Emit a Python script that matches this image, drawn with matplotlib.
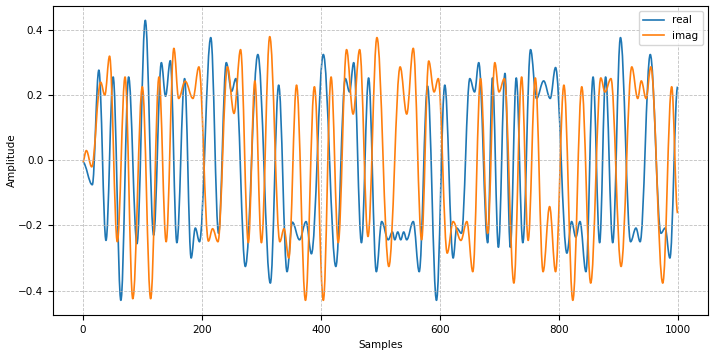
import matplotlib
matplotlib.use("Agg")
import matplotlib.pyplot as plt
from matplotlib.path import Path
from matplotlib.patches import PathPatch
from matplotlib.lines import Line2D

# Sample positions and values (turning points of each swing)
real_idx = [0, 16, 27, 39, 51, 64, 77, 91, 105, 119, 132, 139, 147, 158, 171, 182, 189, 196,
            215, 228, 241, 250, 257, 273, 294, 315, 329, 343, 352, 364, 375, 384, 404, 425,
            441, 448, 455, 468, 480, 493, 502, 513, 520, 524, 529, 534, 539, 544, 555, 565,
            579, 594, 608, 622, 628, 636, 650, 658, 665, 680, 688, 698, 709, 718, 728, 739,
            752, 762, 774, 785, 794, 813, 821, 828, 835, 845, 857, 868, 878, 890, 903, 920,
            929, 936, 953, 971, 978, 986, 999]
real_val = [-0.005, -0.075, 0.277, -0.246, 0.256, -0.43, 0.256, -0.256, 0.43, -0.23, 0.30, 0.197,
            0.306, -0.253, 0.251, -0.30, -0.208, -0.25, 0.377, -0.224, 0.30, 0.212, 0.251, -0.326,
            0.325, -0.377, 0.231, -0.342, -0.19, -0.244, -0.188, -0.287, 0.325, -0.326, 0.251,
            0.21, 0.30, -0.253, 0.253, -0.342, -0.188, -0.244, -0.22, -0.244, -0.22, -0.244,
            -0.22, -0.244, -0.188, -0.342, 0.228, -0.43, 0.231, -0.30, -0.208, -0.224, 0.251,
            0.21, 0.30, -0.253, 0.253, -0.267, 0.267, -0.267, 0.253, -0.253, 0.34, 0.19, 0.244,
            0.19, 0.285, -0.285, -0.188, -0.236, -0.188, -0.342, 0.256, -0.253, 0.256, -0.253,
            0.377, -0.25, -0.208, -0.25, 0.325, -0.224, -0.208, -0.30, 0.226]

imag_idx = [0, 6, 15, 30, 37, 45, 58, 71, 84, 100, 114, 128, 140, 153, 161, 172, 185, 195,
            211, 218, 227, 243, 254, 265, 278, 289, 300, 314, 331, 338, 346, 359, 374, 389,
            404, 417, 429, 443, 454, 465, 479, 494, 514, 533, 544, 555, 569, 581, 590, 597,
            612, 622, 635, 645, 655, 668, 680, 692, 699, 708, 724, 737, 748, 760, 773, 784,
            794, 808, 823, 838, 853, 870, 877, 887, 904, 922, 932, 938, 946, 954, 974, 989, 999]
imag_val = [-0.005, 0.03, -0.02, 0.24, 0.20, 0.32, -0.25, 0.256, -0.425, 0.226, -0.425, 0.256,
            -0.25, 0.344, 0.19, 0.243, 0.19, 0.287, -0.248, -0.21, -0.25, 0.287, 0.144, 0.34,
            -0.253, 0.244, -0.253, 0.38, -0.25, -0.21, -0.30, 0.231, -0.43, 0.226, -0.43, 0.256,
            -0.253, 0.34, 0.142, 0.34, -0.234, 0.377, -0.326, 0.287, 0.142, 0.344, -0.244, 0.305,
            0.21, 0.251, -0.285, -0.188, -0.246, -0.188, -0.342, 0.251, -0.224, 0.30, 0.21,
            0.251, -0.377, 0.256, -0.246, 0.253, -0.342, -0.142, -0.342, 0.231, -0.43, 0.226,
            -0.377, 0.253, 0.21, 0.251, -0.326, 0.287, 0.19, 0.244, 0.19, 0.287, -0.377, 0.226,
            -0.162]

series_labels = ["real", "imag"]
x_label = "Samples"
y_label = "Amplitude"

plt.rcParams['font.family'] = ['DejaVu Sans']
plt.rcParams['font.size'] = 7.5

COLORS = ['#1f77b4', '#ff7f0e']
LW = 1.2


def smooth_path(xs, ys, a=0.364):
    """Cubic Bezier path through the turning points, flat tangents at each one."""
    verts = [(xs[0], ys[0])]
    codes = [Path.MOVETO]
    for i in range(1, len(xs)):
        x0, y0 = xs[i - 1], ys[i - 1]
        x1, y1 = xs[i], ys[i]
        d = x1 - x0
        verts += [(x0 + a * d, y0), (x1 - a * d, y1), (x1, y1)]
        codes += [Path.CURVE4] * 3
    return Path(verts, codes)


fig = plt.figure(figsize=(7.12, 3.52), dpi=100)
ax = fig.add_axes([53/712, 1-315/352, (708-53)/712, (315-6)/352])

for xs, ys, c in [(real_idx, real_val, COLORS[0]), (imag_idx, imag_val, COLORS[1])]:
    patch = PathPatch(smooth_path(xs, ys), fill=False, edgecolor=c, lw=LW,
                      joinstyle='round', capstyle='butt', transform=ax.transData)
    ax.add_patch(patch)

ax.set_xlabel(x_label)
ax.set_ylabel(y_label, labelpad=1)
ax.set_xlim(-50, 1050)
ax.set_ylim(-0.475, 0.474)
ax.set_xticks([0, 200, 400, 600, 800, 1000])
ax.set_yticks([-0.4, -0.2, 0.0, 0.2, 0.4])
ax.grid(True, linestyle='--', color='#b0b0b0', alpha=0.8, linewidth=0.6)
handles = [Line2D([], [], color=COLORS[0], lw=LW), Line2D([], [], color=COLORS[1], lw=LW)]
ax.legend(handles, series_labels, loc='upper right')
fig.savefig("out.png", dpi=100)
